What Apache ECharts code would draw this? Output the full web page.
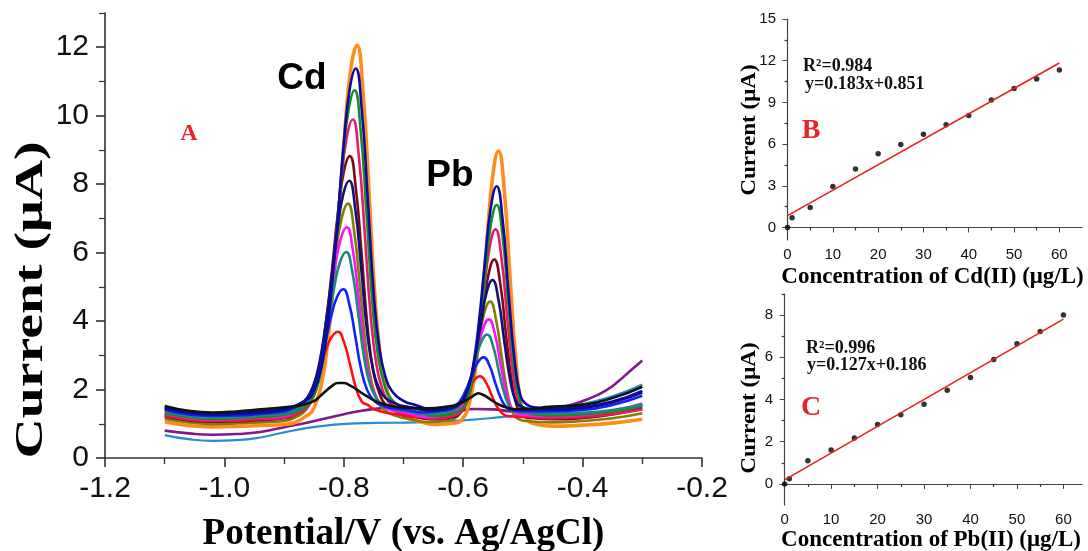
<!DOCTYPE html>
<html>
<head>
<meta charset="utf-8">
<script src="https://cdn.jsdelivr.net/npm/echarts@6/dist/echarts.min.js"></script>
<style>
html,body{margin:0;padding:0;background:#fff;}
#chart{width:1088px;height:551px;}
</style>
</head>
<body>
<div id="chart"></div>
<script>
// ---------- Panel A: DPV curves, [potential (V), current (uA)] ----------
const cvOrange = [[-1.10,1.06],[-1.06,0.95],[-1.02,0.91],[-0.98,0.92],[-0.94,0.95],[-0.90,0.98],[-0.858,1.28],[-0.848,1.55],[-0.838,2.11],[-0.828,3.21],[-0.818,4.98],[-0.808,7.19],[-0.798,9.63],[-0.788,11.40],[-0.778,12.06],[-0.768,10.73],[-0.758,7.86],[-0.748,4.76],[-0.738,2.88],[-0.728,2.00],[-0.718,1.55],[-0.698,1.22],[-0.678,1.09],[-0.645,0.98],[-0.611,1.03],[-0.601,1.15],[-0.591,1.51],[-0.581,2.39],[-0.571,4.00],[-0.561,6.16],[-0.551,8.17],[-0.541,8.97],[-0.531,7.77],[-0.521,5.12],[-0.511,2.71],[-0.501,1.39],[-0.491,1.09],[-0.481,1.00],[-0.45,0.93],[-0.40,0.96],[-0.35,1.02],[-0.30,1.13]];
const cvNavy = [[-1.10,1.47],[-1.06,1.34],[-1.02,1.29],[-0.98,1.31],[-0.94,1.36],[-0.90,1.43],[-0.86,1.72],[-0.85,1.97],[-0.84,2.46],[-0.83,3.45],[-0.82,5.04],[-0.81,7.02],[-0.80,9.20],[-0.79,10.79],[-0.78,11.38],[-0.77,10.19],[-0.76,7.61],[-0.75,4.84],[-0.74,3.15],[-0.73,2.36],[-0.72,1.97],[-0.70,1.67],[-0.68,1.55],[-0.647,1.40],[-0.614,1.51],[-0.604,1.61],[-0.594,1.90],[-0.584,2.62],[-0.574,3.92],[-0.564,5.67],[-0.554,7.29],[-0.544,7.94],[-0.534,6.97],[-0.524,4.82],[-0.514,2.88],[-0.504,1.81],[-0.494,1.57],[-0.484,1.49],[-0.45,1.44],[-0.40,1.49],[-0.35,1.65],[-0.30,1.96]];
const cvGreen = [[-1.10,1.31],[-1.06,1.19],[-1.02,1.14],[-0.98,1.16],[-0.94,1.20],[-0.90,1.26],[-0.862,1.53],[-0.852,1.76],[-0.842,2.24],[-0.832,3.18],[-0.822,4.69],[-0.812,6.58],[-0.802,8.66],[-0.792,10.17],[-0.782,10.74],[-0.772,9.61],[-0.762,7.15],[-0.752,4.50],[-0.742,2.90],[-0.732,2.14],[-0.722,1.76],[-0.702,1.48],[-0.682,1.37],[-0.648,1.23],[-0.614,1.31],[-0.604,1.40],[-0.594,1.68],[-0.584,2.36],[-0.574,3.58],[-0.564,5.24],[-0.554,6.78],[-0.544,7.39],[-0.534,6.47],[-0.524,4.44],[-0.514,2.60],[-0.504,1.59],[-0.494,1.36],[-0.484,1.29],[-0.45,1.24],[-0.40,1.28],[-0.35,1.36],[-0.30,1.52]];
const cvCrimson = [[-1.10,1.24],[-1.06,1.12],[-1.02,1.08],[-0.98,1.09],[-0.94,1.13],[-0.90,1.18],[-0.865,1.43],[-0.855,1.64],[-0.845,2.08],[-0.835,2.95],[-0.825,4.33],[-0.815,6.07],[-0.805,7.98],[-0.795,9.37],[-0.785,9.89],[-0.775,8.85],[-0.765,6.59],[-0.755,4.16],[-0.745,2.69],[-0.735,1.99],[-0.725,1.64],[-0.705,1.38],[-0.685,1.28],[-0.65,1.15],[-0.616,1.23],[-0.606,1.31],[-0.596,1.56],[-0.586,2.16],[-0.576,3.26],[-0.566,4.75],[-0.556,6.13],[-0.546,6.68],[-0.536,5.85],[-0.526,4.04],[-0.516,2.38],[-0.506,1.47],[-0.496,1.27],[-0.486,1.20],[-0.45,1.16],[-0.40,1.20],[-0.35,1.28],[-0.30,1.42]];
const cvMaroon = [[-1.10,1.22],[-1.06,1.10],[-1.02,1.06],[-0.98,1.07],[-0.94,1.11],[-0.90,1.16],[-0.87,1.37],[-0.86,1.56],[-0.85,1.94],[-0.84,2.71],[-0.83,3.93],[-0.82,5.46],[-0.81,7.14],[-0.80,8.36],[-0.79,8.82],[-0.78,7.90],[-0.77,5.92],[-0.76,3.78],[-0.75,2.48],[-0.74,1.87],[-0.73,1.56],[-0.71,1.33],[-0.69,1.24],[-0.654,1.13],[-0.618,1.19],[-0.608,1.26],[-0.598,1.47],[-0.588,1.98],[-0.578,2.91],[-0.568,4.17],[-0.558,5.33],[-0.548,5.80],[-0.538,5.10],[-0.528,3.56],[-0.518,2.17],[-0.508,1.40],[-0.498,1.22],[-0.488,1.17],[-0.45,1.13],[-0.40,1.17],[-0.35,1.27],[-0.30,1.47]];
const cvDarkNavy = [[-1.10,1.45],[-1.06,1.32],[-1.02,1.27],[-0.98,1.29],[-0.94,1.33],[-0.90,1.41],[-0.871,1.61],[-0.861,1.77],[-0.851,2.11],[-0.841,2.77],[-0.831,3.84],[-0.821,5.17],[-0.811,6.63],[-0.801,7.70],[-0.791,8.10],[-0.781,7.30],[-0.771,5.57],[-0.761,3.70],[-0.751,2.57],[-0.741,2.04],[-0.731,1.77],[-0.711,1.57],[-0.691,1.49],[-0.656,1.38],[-0.621,1.46],[-0.611,1.51],[-0.601,1.68],[-0.591,2.10],[-0.581,2.86],[-0.571,3.88],[-0.561,4.82],[-0.551,5.20],[-0.541,4.63],[-0.531,3.39],[-0.521,2.25],[-0.511,1.63],[-0.501,1.49],[-0.491,1.44],[-0.45,1.41],[-0.40,1.46],[-0.35,1.62],[-0.30,1.91]];
const cvOlive = [[-1.10,1.15],[-1.06,1.04],[-1.02,0.99],[-0.98,1.01],[-0.94,1.04],[-0.90,1.08],[-0.873,1.26],[-0.863,1.42],[-0.853,1.73],[-0.843,2.37],[-0.833,3.38],[-0.823,4.64],[-0.813,6.04],[-0.803,7.05],[-0.793,7.43],[-0.783,6.67],[-0.773,5.02],[-0.763,3.25],[-0.753,2.18],[-0.743,1.67],[-0.733,1.42],[-0.713,1.23],[-0.693,1.15],[-0.659,1.05],[-0.625,1.10],[-0.615,1.15],[-0.605,1.31],[-0.595,1.69],[-0.585,2.39],[-0.575,3.34],[-0.565,4.22],[-0.555,4.57],[-0.545,4.04],[-0.535,2.89],[-0.525,1.83],[-0.515,1.25],[-0.505,1.12],[-0.495,1.08],[-0.45,1.04],[-0.40,1.08],[-0.35,1.16],[-0.30,1.31]];
const cvMagenta = [[-1.10,1.29],[-1.06,1.17],[-1.02,1.12],[-0.98,1.14],[-0.94,1.18],[-0.90,1.23],[-0.875,1.40],[-0.865,1.53],[-0.855,1.81],[-0.845,2.36],[-0.835,3.23],[-0.825,4.33],[-0.815,5.53],[-0.805,6.41],[-0.795,6.74],[-0.785,6.08],[-0.775,4.66],[-0.765,3.12],[-0.755,2.19],[-0.745,1.75],[-0.735,1.53],[-0.715,1.37],[-0.695,1.30],[-0.661,1.20],[-0.627,1.26],[-0.617,1.30],[-0.607,1.43],[-0.597,1.74],[-0.587,2.30],[-0.577,3.06],[-0.567,3.77],[-0.557,4.05],[-0.547,3.63],[-0.537,2.70],[-0.527,1.85],[-0.517,1.39],[-0.507,1.28],[-0.497,1.25],[-0.45,1.22],[-0.40,1.26],[-0.35,1.37],[-0.30,1.59]];
const cvTeal = [[-1.10,1.36],[-1.06,1.23],[-1.02,1.18],[-0.98,1.20],[-0.94,1.24],[-0.90,1.31],[-0.876,1.46],[-0.866,1.57],[-0.856,1.81],[-0.846,2.28],[-0.836,3.02],[-0.826,3.96],[-0.816,4.99],[-0.806,5.74],[-0.796,6.02],[-0.786,5.46],[-0.776,4.24],[-0.766,2.93],[-0.756,2.14],[-0.746,1.76],[-0.736,1.57],[-0.716,1.43],[-0.696,1.38],[-0.663,1.28],[-0.630,1.33],[-0.620,1.37],[-0.610,1.47],[-0.600,1.72],[-0.590,2.18],[-0.580,2.81],[-0.570,3.38],[-0.560,3.61],[-0.550,3.27],[-0.540,2.51],[-0.530,1.82],[-0.520,1.44],[-0.510,1.35],[-0.500,1.32],[-0.45,1.30],[-0.40,1.32],[-0.35,1.40],[-0.30,1.56]];
const cvBlue = [[-1.10,1.41],[-1.06,1.27],[-1.02,1.23],[-0.98,1.24],[-0.94,1.29],[-0.90,1.36],[-0.881,1.48],[-0.871,1.57],[-0.861,1.74],[-0.851,2.10],[-0.841,2.66],[-0.831,3.37],[-0.821,4.15],[-0.811,4.72],[-0.801,4.93],[-0.791,4.51],[-0.781,3.58],[-0.771,2.59],[-0.761,1.99],[-0.751,1.71],[-0.741,1.57],[-0.721,1.46],[-0.701,1.42],[-0.668,1.33],[-0.636,1.38],[-0.626,1.40],[-0.616,1.47],[-0.606,1.64],[-0.596,1.96],[-0.586,2.39],[-0.576,2.78],[-0.566,2.94],[-0.556,2.70],[-0.546,2.18],[-0.536,1.71],[-0.526,1.45],[-0.516,1.39],[-0.506,1.37],[-0.45,1.36],[-0.40,1.40],[-0.35,1.55],[-0.30,1.82]];
const cvRed = [[-1.10,1.27],[-1.06,1.14],[-1.02,1.10],[-0.98,1.11],[-0.94,1.15],[-0.890,1.29],[-0.880,1.35],[-0.870,1.48],[-0.860,1.72],[-0.850,2.12],[-0.840,2.61],[-0.830,3.15],[-0.820,3.54],[-0.810,3.69],[-0.800,3.40],[-0.790,2.76],[-0.780,2.07],[-0.770,1.65],[-0.760,1.55],[-0.750,1.43],[-0.730,1.33],[-0.710,1.27],[-0.676,1.19],[-0.642,1.21],[-0.632,1.23],[-0.622,1.28],[-0.612,1.41],[-0.602,1.65],[-0.592,1.97],[-0.582,2.27],[-0.572,2.39],[-0.562,2.21],[-0.552,1.82],[-0.542,1.46],[-0.532,1.27],[-0.522,1.22],[-0.512,1.21],[-0.45,1.19],[-0.40,1.23],[-0.35,1.34],[-0.30,1.54]];
const cvBlack = [[-1.10,1.52],[-1.06,1.38],[-1.02,1.33],[-0.98,1.36],[-0.94,1.42],[-0.90,1.48],[-0.87,1.55],[-0.85,1.66],[-0.84,1.80],[-0.83,1.96],[-0.82,2.10],[-0.81,2.19],[-0.80,2.19],[-0.79,2.12],[-0.78,2.02],[-0.77,1.90],[-0.76,1.79],[-0.75,1.69],[-0.74,1.61],[-0.72,1.52],[-0.70,1.47],[-0.66,1.45],[-0.62,1.52],[-0.61,1.57],[-0.60,1.64],[-0.59,1.74],[-0.58,1.85],[-0.575,1.89],[-0.57,1.87],[-0.56,1.78],[-0.55,1.66],[-0.54,1.56],[-0.53,1.49],[-0.51,1.42],[-0.49,1.42],[-0.47,1.47],[-0.45,1.50],[-0.40,1.56],[-0.35,1.75],[-0.30,2.08]];
const cvPurple = [[-1.10,0.80],[-1.06,0.72],[-1.02,0.68],[-0.98,0.70],[-0.94,0.76],[-0.90,0.90],[-0.86,1.04],[-0.82,1.20],[-0.78,1.35],[-0.74,1.45],[-0.70,1.49],[-0.66,1.42],[-0.62,1.36],[-0.58,1.43],[-0.55,1.42],[-0.52,1.36],[-0.49,1.33],[-0.46,1.42],[-0.42,1.55],[-0.38,1.80],[-0.36,1.98],[-0.34,2.24],[-0.32,2.55],[-0.30,2.85]];
const cvLightBlue = [[-1.10,0.67],[-1.06,0.55],[-1.02,0.50],[-0.98,0.52],[-0.94,0.60],[-0.90,0.75],[-0.86,0.88],[-0.82,0.97],[-0.78,1.01],[-0.72,1.03],[-0.66,1.05],[-0.60,1.10],[-0.55,1.17],[-0.50,1.27],[-0.45,1.40],[-0.40,1.57],[-0.36,1.75],[-0.33,1.93],[-0.30,2.15]];

// ---------- Panel B: Cd calibration ----------
const cdConc = [0,1,5,10,15,20,25,30,35,40,45,50,55,60];
const cdCurrent = [0.00,0.70,1.44,2.95,4.20,5.30,5.97,6.70,7.39,8.06,9.17,10.00,10.68,11.33];
const cdFitConc = [0,60];
const cdFitCurrent = [0.85,11.83];

// ---------- Panel C: Pb calibration ----------
const pbConc = [0,1,5,10,15,20,25,30,35,40,45,50,55,60];
const pbCurrent = [0.00,0.25,1.10,1.61,2.17,2.82,3.28,3.78,4.44,5.04,5.90,6.64,7.22,8.00];
const pbFitConc = [0,60];
const pbFitCurrent = [0.19,7.81];

// ---------- tick labels ----------
const aYLabels = [0,2,4,6,8,10,12];
const aYMinor = [1,3,5,7,9,11,13];
const bXLabels = [0,10,20,30,40,50,60];
const bXMinor = [5,15,25,35,45,55];
const bYLabels = [0,3,6,9,12,15];
const bYMinor = [1.5,4.5,7.5,10.5,13.5];
const cXLabels = [0,10,20,30,40,50,60];
const cXMinor = [5,15,25,35,45,55];
const cYLabels = [0,2,4,6,8];
const cYMinor = [1,3,5,7,9];

const SERIF = '"Liberation Serif","Times New Roman",serif';
const SANS = '"Liberation Sans",Arial,sans-serif';

const curves = [
  {d: cvLightBlue, c: '#2a8bd0', w: 2.2},
  {d: cvPurple, c: '#7f1a8c', w: 2.6},
  {d: cvOrange, c: '#ff8c1a', w: 3.6},
  {d: cvOlive, c: '#808000', w: 2.6},
  {d: cvMaroon, c: '#7a0a14', w: 2.6},
  {d: cvCrimson, c: '#e8196a', w: 2.6},
  {d: cvRed, c: '#ff1010', w: 2.6},
  {d: cvMagenta, c: '#ff10ff', w: 2.6},
  {d: cvGreen, c: '#158c2a', w: 2.6},
  {d: cvTeal, c: '#1a8a7a', w: 2.6},
  {d: cvBlue, c: '#1020ff', w: 2.6},
  {d: cvDarkNavy, c: '#10107a', w: 2.6},
  {d: cvNavy, c: '#0a0aa0', w: 2.6},
  {d: cvBlack, c: '#111111', w: 2.6}
];

function pairs(xs, ys) { return xs.map((x, i) => [x, ys[i]]); }

const axisLineA = {show: true, lineStyle: {color: '#333', width: 1.6}};
const axisLineS = {show: true, lineStyle: {color: '#444', width: 1.2}};

function minorAxis(gridIndex, min, max, vals, len, isX) {
  const a = {
    type: 'value', gridIndex, min, max,
    axisLine: {show: false},
    axisLabel: {show: false},
    splitLine: {show: false},
    axisTick: {show: true, inside: false, length: len, customValues: vals, lineStyle: {color: '#333', width: 1.2}}
  };
  a.position = isX ? 'bottom' : 'left';
  a.offset = 0;
  return a;
}

const option = {
  animation: false,
  backgroundColor: '#ffffff',
  grid: [
    {left: 105, top: 13, width: 597, height: 445, outerBoundsMode: 'none'},
    {left: 783, top: 19, width: 299, height: 221, outerBoundsMode: 'none'},
    {left: 780, top: 294, width: 302, height: 211, outerBoundsMode: 'none'}
  ],
  xAxis: [
    { type: 'value', gridIndex: 0, min: -1.2, max: -0.2, interval: 0.2, position: 'bottom',
      axisLine: axisLineA,
      axisTick: {show: true, inside: false, length: 9, lineStyle: {color: '#333', width: 1.6}},
      minorTick: {show: true, splitNumber: 2, length: 6, lineStyle: {color: '#333', width: 1.4}},
      axisLabel: {fontSize: 30, fontFamily: SANS, color: '#111', margin: 16, formatter: v => v.toFixed(1)},
      splitLine: {show: false},
      name: 'Potential/V (vs. Ag/AgCl)', nameLocation: 'middle', nameGap: 58,
      nameTextStyle: {fontFamily: SERIF, fontWeight: 'bold', fontSize: 37, color: '#000'}
    },
    { type: 'value', gridIndex: 1, min: -1, max: 65, position: 'bottom',
      axisLine: axisLineS,
      axisTick: {show: true, inside: false, length: 5, customValues: bXLabels, lineStyle: {color: '#444'}},
      axisLabel: {fontSize: 15, fontFamily: SANS, color: '#111', margin: 7, customValues: bXLabels},
      splitLine: {show: false},
      name: 'Concentration of Cd(II) (μg/L)', nameLocation: 'middle', nameGap: 26,
      nameTextStyle: {fontFamily: SERIF, fontWeight: 'bold', fontSize: 23, color: '#000'}
    },
    minorAxis(1, -1, 65, bXMinor, 3, true),
    { type: 'value', gridIndex: 2, min: -1, max: 64, position: 'bottom',
      axisLine: axisLineS,
      axisTick: {show: true, inside: false, length: 5, customValues: cXLabels, lineStyle: {color: '#444'}},
      axisLabel: {fontSize: 15, fontFamily: SANS, color: '#111', margin: 7, customValues: cXLabels},
      splitLine: {show: false},
      name: 'Concentration of Pb(II) (μg/L)', nameLocation: 'middle', nameGap: 24,
      nameTextStyle: {fontFamily: SERIF, fontWeight: 'bold', fontSize: 23, color: '#000'}
    },
    minorAxis(2, -1, 64, cXMinor, 3, true)
  ],
  yAxis: [
    { type: 'value', gridIndex: 0, min: 0, max: 13, position: 'left',
      axisLine: axisLineA,
      axisTick: {show: true, inside: false, length: 9, customValues: aYLabels, lineStyle: {color: '#333', width: 1.6}},
      axisLabel: {fontSize: 30, fontFamily: SANS, color: '#111', margin: 16, customValues: aYLabels},
      splitLine: {show: false}
    },
    minorAxis(0, 0, 13, aYMinor, 6, false),
    { type: 'value', gridIndex: 1, min: -0.9, max: 15, position: 'left',
      axisLine: axisLineS,
      axisTick: {show: true, inside: false, length: 5, customValues: bYLabels, lineStyle: {color: '#444'}},
      axisLabel: {fontSize: 15, fontFamily: SANS, color: '#111', margin: 7, customValues: bYLabels},
      splitLine: {show: false}
    },
    minorAxis(1, -0.9, 15, bYMinor, 3, false),
    { type: 'value', gridIndex: 2, min: -1, max: 9, position: 'left',
      axisLine: axisLineS,
      axisTick: {show: true, inside: false, length: 5, customValues: cYLabels, lineStyle: {color: '#444'}},
      axisLabel: {fontSize: 15, fontFamily: SANS, color: '#111', margin: 7, customValues: cYLabels},
      splitLine: {show: false}
    },
    minorAxis(2, -1, 9, cYMinor, 3, false)
  ],
  series: [].concat(
    curves.map(k => ({
      type: 'line', xAxisIndex: 0, yAxisIndex: 0, data: k.d,
      showSymbol: false, smooth: 0.5,
      lineStyle: {color: k.c, width: k.w}, itemStyle: {color: k.c}
    })),
    [
      { type: 'line', xAxisIndex: 1, yAxisIndex: 2, data: pairs(cdFitConc, cdFitCurrent),
        showSymbol: false, lineStyle: {color: '#e8201a', width: 1.6} },
      { type: 'scatter', xAxisIndex: 1, yAxisIndex: 2, data: pairs(cdConc, cdCurrent),
        symbolSize: 5.5, itemStyle: {color: '#000'} },
      { type: 'line', xAxisIndex: 3, yAxisIndex: 4, data: pairs(pbFitConc, pbFitCurrent),
        showSymbol: false, lineStyle: {color: '#e8201a', width: 1.6} },
      { type: 'scatter', xAxisIndex: 3, yAxisIndex: 4, data: pairs(pbConc, pbCurrent),
        symbolSize: 5.5, itemStyle: {color: '#000'} }
    ]
  ),
  graphic: [
    {type: 'text', x: 31, y: 300, rotation: Math.PI / 2, scaleX: 1.36,
      style: {text: 'Current (μA)', font: 'bold 41px ' + SERIF, fill: '#000', align: 'center', verticalAlign: 'middle', textAlign: 'center', textVerticalAlign: 'middle'}},
    {type: 'text', x: 749, y: 130, rotation: Math.PI / 2, scaleX: 1.05,
      style: {text: 'Current (μA)', font: 'bold 22px ' + SERIF, fill: '#000', align: 'center', verticalAlign: 'middle', textAlign: 'center', textVerticalAlign: 'middle'}},
    {type: 'text', x: 749, y: 408, rotation: Math.PI / 2, scaleX: 1.05,
      style: {text: 'Current (μA)', font: 'bold 22px ' + SERIF, fill: '#000', align: 'center', verticalAlign: 'middle', textAlign: 'center', textVerticalAlign: 'middle'}},
    {type: 'text', x: 302, y: 79,
      style: {text: 'Cd', font: 'bold 37px ' + SANS, fill: '#000', align: 'center', verticalAlign: 'middle', textAlign: 'center', textVerticalAlign: 'middle'}},
    {type: 'text', x: 450, y: 176,
      style: {text: 'Pb', font: 'bold 37px ' + SANS, fill: '#000', align: 'center', verticalAlign: 'middle', textAlign: 'center', textVerticalAlign: 'middle'}},
    {type: 'text', x: 189, y: 134,
      style: {text: 'A', font: 'bold 24px ' + SERIF, fill: '#e8232a', align: 'center', verticalAlign: 'middle', textAlign: 'center', textVerticalAlign: 'middle'}},
    {type: 'text', x: 811, y: 131,
      style: {text: 'B', font: 'bold 28px ' + SERIF, fill: '#e8232a', align: 'center', verticalAlign: 'middle', textAlign: 'center', textVerticalAlign: 'middle'}},
    {type: 'text', x: 811, y: 408,
      style: {text: 'C', font: 'bold 28px ' + SERIF, fill: '#e8232a', align: 'center', verticalAlign: 'middle', textAlign: 'center', textVerticalAlign: 'middle'}},
    {type: 'text', x: 803, y: 66,
      style: {text: 'R²=0.984', font: 'bold 18px ' + SERIF, fill: '#111', align: 'left', verticalAlign: 'middle', textAlign: 'left', textVerticalAlign: 'middle'}},
    {type: 'text', x: 805, y: 84,
      style: {text: 'y=0.183x+0.851', font: 'bold 18px ' + SERIF, fill: '#111', align: 'left', verticalAlign: 'middle', textAlign: 'left', textVerticalAlign: 'middle'}},
    {type: 'text', x: 806, y: 348,
      style: {text: 'R²=0.996', font: 'bold 18px ' + SERIF, fill: '#111', align: 'left', verticalAlign: 'middle', textAlign: 'left', textVerticalAlign: 'middle'}},
    {type: 'text', x: 807, y: 365,
      style: {text: 'y=0.127x+0.186', font: 'bold 18px ' + SERIF, fill: '#111', align: 'left', verticalAlign: 'middle', textAlign: 'left', textVerticalAlign: 'middle'}}
  ]
};

const chart = echarts.init(document.getElementById('chart'), null, {renderer: 'canvas'});
chart.setOption(option);
</script>
</body>
</html>
